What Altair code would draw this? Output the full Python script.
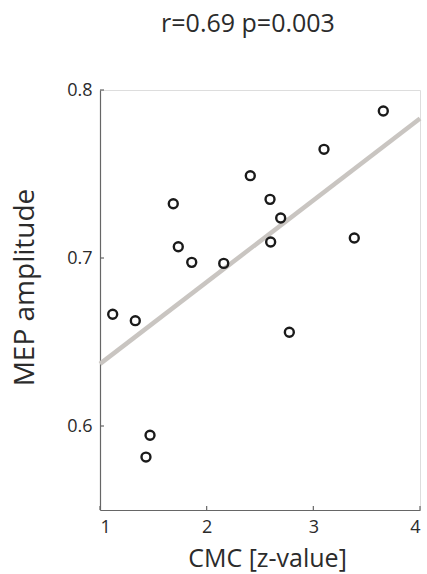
import altair as alt
import pandas as pd

cmc = [3.656, 3.100, 2.409, 1.687, 2.594, 2.694, 1.734, 1.860, 2.160, 2.600,
       3.384, 1.119, 1.331, 2.775, 1.469, 1.431]
mep = [0.7875, 0.7647, 0.749, 0.7323, 0.7349, 0.7238, 0.7067, 0.6974, 0.6968,
       0.7095, 0.7119, 0.6665, 0.6627, 0.6558, 0.5945, 0.5815]
fit_x = [1.0, 4.0]
fit_y = [0.637, 0.783]
x_ticks = [1, 2, 3, 4]
y_ticks = [0.6, 0.7, 0.8]

FONT = "Open Sans"
TXT = "#2b2b2b"
AX = "#666666"

pts = pd.DataFrame({"CMC": cmc, "MEP": mep})
fit = pd.DataFrame({"CMC": fit_x, "MEP": fit_y})
xt = pd.DataFrame({"v": x_ticks})
yt = pd.DataFrame({"v": y_ticks})

xs = alt.Scale(domain=[1, 4], nice=False, zero=False)
ys = alt.Scale(domain=[0.55, 0.8], nice=False, zero=False)

xaxis = alt.Axis(values=x_ticks, tickSize=0, labelPadding=8, labelFontSize=18,
                 labelFont=FONT, labelColor=TXT, domainColor=AX, domainWidth=1.2,
                 grid=False, format="d", title="CMC [z-value]", titleFont=FONT,
                 titleFontSize=25, titleFontWeight="normal", titleColor=TXT,
                 titleX=167, titleY=48, titleBaseline="middle", titleAlign="center")
yaxis = alt.Axis(values=y_ticks, tickSize=0, labelPadding=8, labelFontSize=18,
                 labelFont=FONT, labelColor=TXT, domainColor=AX, domainWidth=1.2,
                 grid=False, format=".1f", title="MEP amplitude", titleFont=FONT,
                 titleFontSize=28, titleFontWeight="normal", titleColor=TXT,
                 titleX=-75, titleY=197, titleBaseline="middle", titleAlign="center",
                 titleAngle=-90)

line = alt.Chart(fit).mark_line(color="#c9c5c1", strokeWidth=4.5).encode(
    x=alt.X("CMC:Q", scale=xs, axis=xaxis),
    y=alt.Y("MEP:Q", scale=ys, axis=yaxis),
)
points = alt.Chart(pts).mark_point(shape="circle", filled=False, color="#1a1a1a",
                                   strokeWidth=2.4, size=80, opacity=1).encode(
    x=alt.X("CMC:Q", scale=xs),
    y=alt.Y("MEP:Q", scale=ys),
)
xtick = alt.Chart(xt).mark_rule(color=AX, strokeWidth=1.2).encode(
    x=alt.X("v:Q", scale=xs), y=alt.value(416), y2=alt.value(420))
ytick = alt.Chart(yt).mark_rule(color=AX, strokeWidth=1.2).encode(
    y=alt.Y("v:Q", scale=ys), x=alt.value(0), x2=alt.value(4))

chart = alt.layer(line, xtick, ytick, points).properties(
    width=320, height=420,
    title=alt.TitleParams("r=0.69 p=0.003", font=FONT, fontSize=25,
                          fontWeight="normal", color=TXT, anchor="middle",
                          dx=-12, offset=44),
    autosize=alt.AutoSizeParams(type="none"),
    padding={"left": 100, "top": 90, "right": 7, "bottom": 64},
).configure_view(stroke=None).configure(background="white")

chart.save("out.html", embed_options={"renderer": "svg", "actions": False})
